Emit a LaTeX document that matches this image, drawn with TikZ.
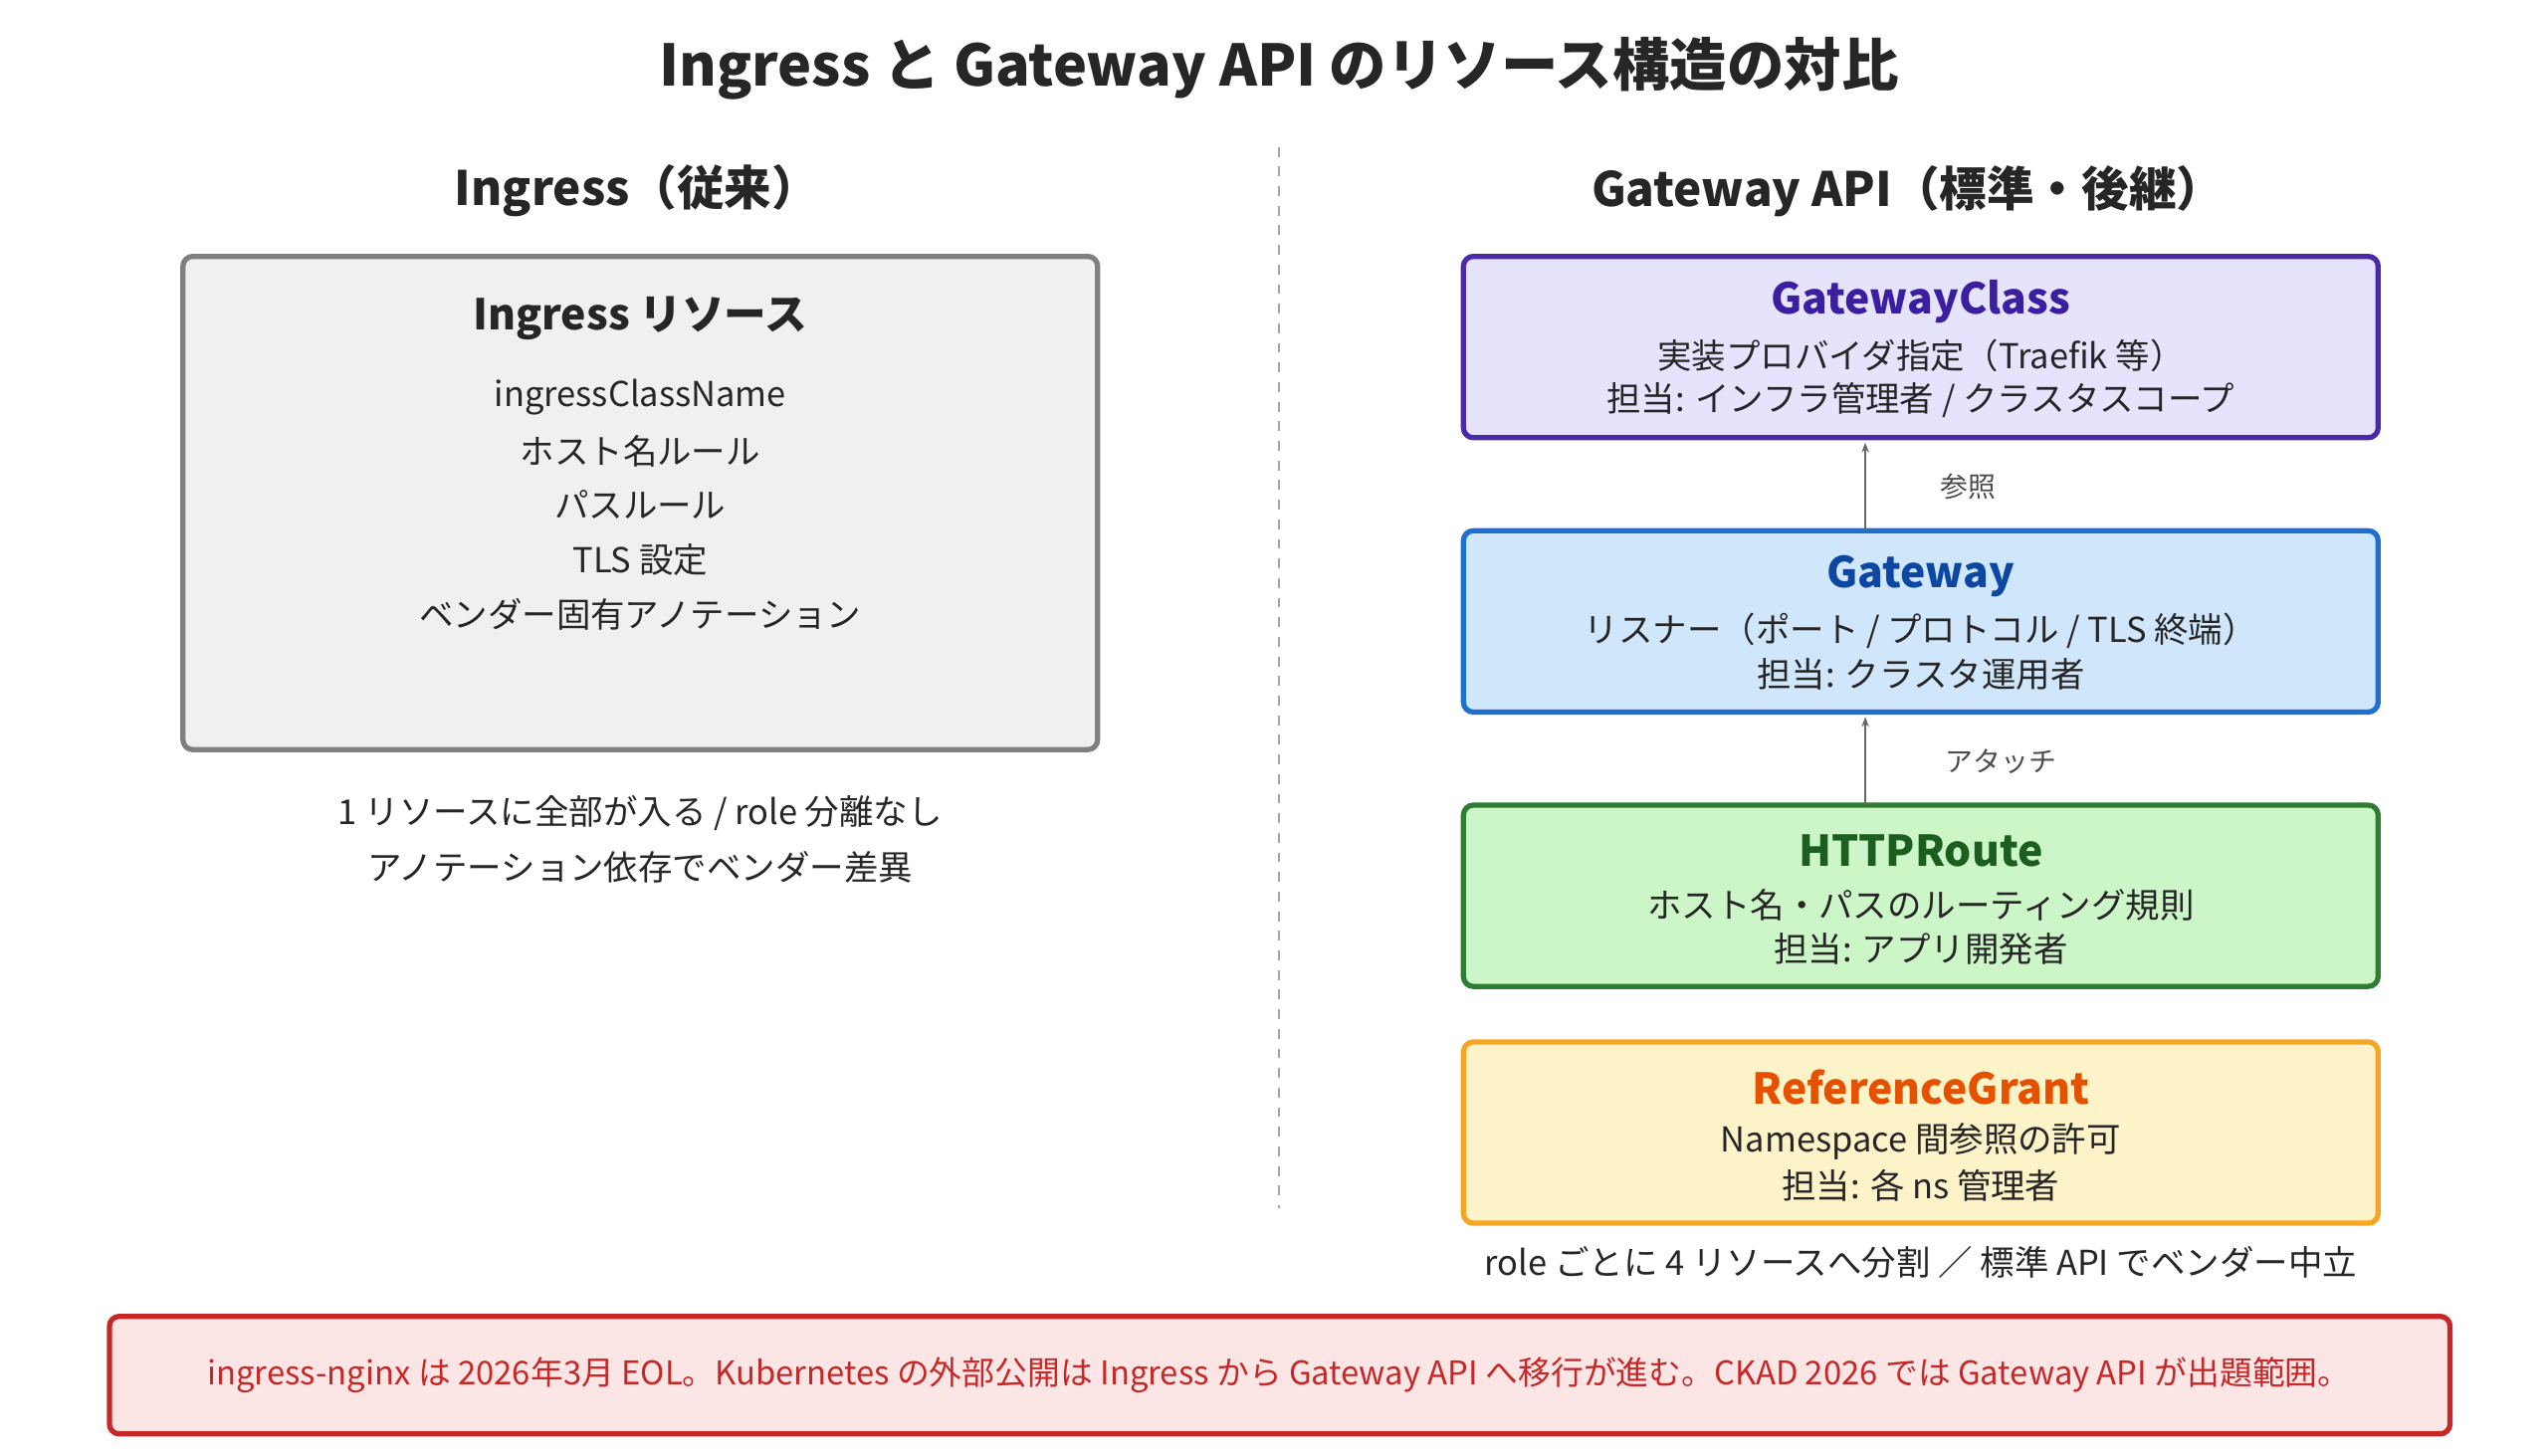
\documentclass[tikz,border=0pt]{standalone}
\usepackage{fontspec}
\setmainfont{Noto Sans CJK JP}
\begin{document}
\begin{tikzpicture}[x=0.5pt,y=-0.5pt,
  box/.style={draw,line width=1.6pt,rounded corners=3pt},
  ttl/.style={font=\fontsize{13}{15}\selectfont\bfseries},
  txt/.style={font=\fontsize{10.5}{12}\selectfont,text=black!85},
  arr/.style={draw=black!60,line width=0.6pt,-{Stealth[length=3pt]}}]
\useasboundingbox (0,0) rectangle (1560,891.5);
\usetikzlibrary{arrows.meta}
\node[font=\fontsize{17.5}{20}\selectfont\bfseries,text=black!85] (title) at (783,42) {Ingress と Gateway API のリソース構造の対比};
\draw[black!35,dashed,line width=0.8pt] (783,90) -- (783,740);
\node[font=\fontsize{14.5}{17}\selectfont\bfseries,text=black!85] (lh) at (390,117) {Ingress（従来）};
\node[font=\fontsize{14.5}{17}\selectfont\bfseries,text=black!85] (rh) at (1168,117) {Gateway API（標準・後継）};
% left box
\draw[box,draw=black!50,fill=black!6] (112,157) rectangle (672,459);
\node[ttl,text=black!85] (it) at (392,195) {Ingress リソース};
\node[txt] (l1) at (392,243) {ingressClassName};
\node[txt] (l2) at (392,276) {ホスト名ルール};
\node[txt] (l3) at (392,309) {パスルール};
\node[txt] (l4) at (392,343) {TLS 設定};
\node[txt] (l5) at (392,376) {ベンダー固有アノテーション};
\node[txt] (n1) at (392,498) {1 リソースに全部が入る / role 分離なし};
\node[txt] (n2) at (392,531) {アノテーション依存でベンダー差異};
% right boxes
\definecolor{gcF}{HTML}{E6E3FC}\definecolor{gcD}{HTML}{4B2AA8}\definecolor{gcT}{HTML}{3B1FA0}
\definecolor{gwF}{HTML}{D0E6FB}\definecolor{gwD}{HTML}{1E6FD0}\definecolor{gwT}{HTML}{0D47A1}
\definecolor{hrF}{HTML}{CCF5C8}\definecolor{hrD}{HTML}{2E7D32}\definecolor{hrT}{HTML}{1B5E20}
\definecolor{rgF}{HTML}{FDF3C8}\definecolor{rgD}{HTML}{F5A623}\definecolor{rgT}{HTML}{E65100}
\definecolor{redD}{HTML}{C62828}\definecolor{redF}{HTML}{FBE5E5}
\draw[box,draw=gcD,fill=gcF] (896,157) rectangle (1456,268);
\node[ttl,text=gcT] (gc) at (1176,185) {GatewayClass};
\node[txt] at (1176,218) {実装プロバイダ指定（Traefik 等）};
\node[txt] at (1176,245) {担当: インフラ管理者 / クラスタスコープ};
\draw[box,draw=gwD,fill=gwF] (896,325) rectangle (1456,436);
\node[ttl,text=gwT] (gw) at (1176,353) {Gateway};
\node[txt] at (1176,386) {リスナー（ポート / プロトコル / TLS 終端）};
\node[txt] at (1176,413) {担当: クラスタ運用者};
\draw[box,draw=hrD,fill=hrF] (896,493) rectangle (1456,604);
\node[ttl,text=hrT] (hr) at (1176,521) {HTTPRoute};
\node[txt] at (1176,554) {ホスト名・パスのルーティング規則};
\node[txt] at (1176,581) {担当: アプリ開発者};
\draw[box,draw=rgD,fill=rgF] (896,638) rectangle (1456,749);
\node[ttl,text=rgT] (rg) at (1176,666) {ReferenceGrant};
\node[txt] at (1176,699) {Namespace 間参照の許可};
\node[txt] at (1176,726) {担当: 各 ns 管理者};
\coordinate (a1s) at (1142,325); \coordinate (a1e) at (1142,271);
\coordinate (a2s) at (1142,493); \coordinate (a2e) at (1142,439);
\draw[arr] (a1s) -- (a1e);
\draw[arr] (a2s) -- (a2e);
\node[font=\fontsize{8.5}{10}\selectfont,text=black!70] at (1205,298) {参照};
\node[font=\fontsize{8.5}{10}\selectfont,text=black!70] at (1225,466) {アタッチ};
\node[txt] at (1176,773) {role ごとに 4 リソースへ分割 ／ 標準 API でベンダー中立};
% footer
\draw[box,draw=redD,fill=redF] (67,806) rectangle (1500,878);
\node[font=\fontsize{10}{12}\selectfont,text=redD] (ft) at (783,842) {ingress-nginx は 2026年3月 EOL。Kubernetes の外部公開は Ingress から Gateway API へ移行が進む。CKAD 2026 では Gateway API が出題範囲。};
\end{tikzpicture}
\end{document}
